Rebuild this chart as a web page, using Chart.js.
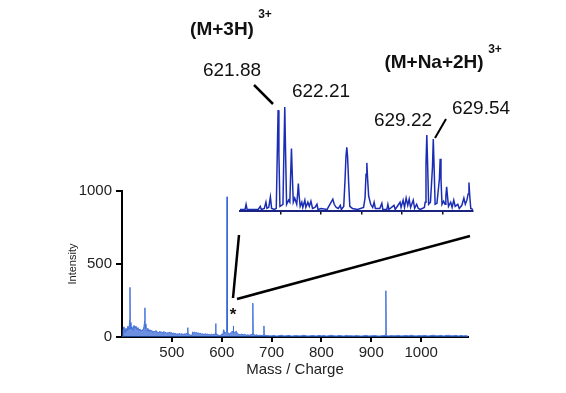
<!DOCTYPE html>
<html>
<head>
<meta charset="utf-8">
<script src="https://cdn.jsdelivr.net/npm/chart.js@4/dist/chart.umd.min.js"></script>
<style>
  html, body { margin:0; padding:0; background:#fff; }
  #wrap { position:relative; width:566px; height:393px; overflow:hidden; font-family:"Liberation Sans", Arial, sans-serif; }
  canvas { position:absolute; left:0; top:0; }
  .lbl { position:absolute; transform:translate(-50%,-50%); white-space:nowrap; line-height:1; color:#111; }
  svg { position:absolute; left:0; top:0; }
</style>
</head>
<body>
<div id="wrap">
  <canvas id="main" width="566" height="393"></canvas>
  <canvas id="inset" width="566" height="393"></canvas>
</div>
<script>
// ---------- main spectrum (m/z, intensity) ----------
const mainMz = [
  400,402,404,406,408,410,412,414,415.5,416,416.5,418,420,422,424,426,428,430,432,434,436,438,440,442,444,445.5,446,446.5,448,450,
  452,454,456,458,460,462,464,466,468,470,472,474,476,478,480,482,484,486,488,490,492,494,496,498,500,502,504,506,508,510,
  512,514,516,518,520,522,524,526,528,530,531.5,532,532.5,534,536,538,540,542,544,546,548,550,552,554,556,558,560,562,564,566,
  568,570,572,574,576,578,580,582,584,586,587.5,588,588.5,590,592,594,596,598,600,602,604,606,608,610,610.7,611.4,613,615,617,619,
  621,623,623.4,623.8,625,627,629.3,631,633,635,637,640,643,646,649,652,655,658,661,662.2,662.7,663.2,664,667,670,673,676,679,682,684.2,684.7,685.2,686,690,695,
  700,705,710,715,720,725,730,735,740,745,750,755,760,765,770,775,780,785,790,795,800,805,810,815,820,825,830,835,840,845,
  850,855,860,865,870,875,880,885,890,895,900,905,910,915,920,925,928.5,929.3,930,932,935,940,945,950,955,960,965,970,975,980,
  985,990,995,1000,1005,1010,1015,1020,1025,1030,1035,1040,1045,1050,1055,1060,1065,1070,1075,1080,1085,1090,1094
];
const mainIntensity = [
  5,45,70,30,60,40,75,50,120,340,100,55,70,45,80,60,75,50,65,45,55,40,50,45,70,110,200,90,55,40,
  60,35,50,40,45,30,40,35,45,30,35,28,40,30,35,25,38,30,32,25,30,28,35,25,30,22,28,20,25,18,
  22,20,25,18,22,20,18,22,20,25,20,64,20,20,15,12,10,35,30,32,28,30,25,28,22,25,20,22,18,20,
  22,18,20,15,18,15,20,15,18,20,20,92,20,20,15,12,10,12,20,15,50,25,30,40,960,40,25,20,25,30,
  40,30,76,30,30,35,40,25,20,18,15,20,15,18,12,15,12,15,20,20,232,20,20,12,15,10,12,10,12,12,76,12,12,10,8,
  8,10,6,9,12,7,9,11,6,8,10,7,9,12,8,6,10,9,7,11,8,10,6,9,12,8,7,10,9,6,
  11,8,9,7,10,8,6,9,11,7,8,10,9,6,8,10,12,317,12,9,7,10,8,9,11,7,9,10,8,12,
  9,7,10,8,11,9,7,10,12,8,9,11,7,10,12,8,9,11,7,10,8,9,6
];
const mainXTicks = [500, 600, 700, 800, 900, 1000];
const mainYTicks = [0, 500, 1000];

// ---------- inset (zoom of 620 - 631.5) ----------
const insetMz = [
  620.0,620.25,620.3,620.35,620.9,621.0,621.05,621.2,621.28,621.33,
  621.42,621.5,621.56,621.7,621.79,621.84,621.88,621.92,621.97,622.05,
  622.12,622.17,622.21,622.25,622.3,622.4,622.46,622.5,622.54,622.58,
  622.63,622.7,622.8,622.84,622.88,622.92,622.97,623.05,623.1,623.2,
  623.25,623.35,623.42,623.5,623.58,623.7,623.8,623.85,624.0,624.3,
  624.58,624.65,624.75,624.85,624.95,625.0,625.12,625.18,625.23,625.27,
  625.31,625.36,625.42,625.55,625.8,626.1,626.17,626.22,626.26,626.3,
  626.35,626.4,626.45,626.55,626.62,626.68,626.9,627.0,627.05,627.25,
  627.3,627.35,627.6,627.66,627.9,627.95,628.05,628.12,628.2,628.28,
  628.35,628.42,628.55,628.62,628.72,628.8,628.9,629.1,629.14,629.18,
  629.22,629.26,629.31,629.4,629.5,629.54,629.58,629.63,629.72,629.84,
  629.88,629.92,629.97,630.05,630.12,630.16,630.2,630.24,630.29,630.4,
  630.47,630.55,630.62,630.75,630.82,630.95,631.05,631.12,631.2,631.26,
  631.3,631.34,631.39,631.5
];
const insetIntensity = [
  1,1,6,1,1,4,1,2,8,2,
  3,13,2,1,2,55,97,55,4,5,
  6,60,100,55,6,10,8,35,60,35,
  8,12,6,15,26,14,4,8,3,10,
  3,8,4,9,2,3,6,1,2,1,
  11,6,3,2,5,1,4,28,52,61,
  52,28,4,2,1,3,12,35,46,30,
  14,10,6,3,8,2,2,7,1,1,
  6,1,5,1,8,3,10,3,12,5,
  11,3,10,2,6,2,1,3,8,45,
  73,45,6,8,42,69,42,6,7,30,
  50,30,6,9,6,14,23,14,4,8,
  3,10,4,6,2,5,12,6,10,16,
  27,14,2,1
];
const insetXTicks = [622, 624, 626, 628, 630];

const FONT = '"Liberation Sans", Arial, sans-serif';

new Chart(document.getElementById('main'), {
  type: 'line',
  data: {
    datasets: [{
      data: mainMz.map((m, i) => ({ x: m, y: mainIntensity[i] })),
      borderColor: 'rgba(55,105,215,0.9)',
      backgroundColor: 'rgba(45,95,210,0.7)',
      fill: 'origin',
      borderWidth: 1,
      pointRadius: 0,
      tension: 0
    }]
  },
  options: {
    responsive: false,
    animation: false,
    events: [],
    layout: { padding: { left: 66, right: 98, top: 191, bottom: 10 } },
    plugins: { legend: { display: false }, tooltip: { enabled: false } },
    scales: {
      x: {
        type: 'linear', min: 400, max: 1094,
        afterBuildTicks: s => { s.ticks = mainXTicks.map(v => ({ value: v })); },
        afterFit: s => { s.height = 46; },
        ticks: { font: { family: FONT, size: 15 }, color: '#222', padding: 2, maxRotation: 0, callback: v => String(v) },
        grid: { drawOnChartArea: false, drawTicks: true, tickLength: 5, color: '#000', lineWidth: 2 },
        border: { display: true, color: '#000', width: 2 },
        title: { display: true, text: 'Mass / Charge', font: { family: FONT, size: 15 }, color: '#222', padding: { top: 0, bottom: 4 } }
      },
      y: {
        min: 0, max: 1000,
        afterBuildTicks: s => { s.ticks = mainYTicks.map(v => ({ value: v })); },
        afterFit: s => { s.width = 56; },
        ticks: { font: { family: FONT, size: 15 }, color: '#222', padding: 4, callback: v => String(v) },
        grid: { drawOnChartArea: false, drawTicks: true, tickLength: 6, color: '#000', lineWidth: 2 },
        border: { display: true, color: '#000', width: 2 },
        title: { display: true, text: 'Intensity', font: { family: FONT, size: 11 }, color: '#222', padding: 0 }
      }
    }
  }
});

new Chart(document.getElementById('inset'), {
  type: 'line',
  data: {
    datasets: [{
      data: insetMz.map((m, i) => ({ x: m, y: insetIntensity[i] })),
      borderColor: '#1b2db4',
      borderWidth: 1.5,
      pointRadius: 0,
      tension: 0,
      fill: false
    }]
  },
  options: {
    responsive: false,
    animation: false,
    events: [],
    layout: { padding: { left: 240, right: 93, top: 106, bottom: 174.5 } },
    plugins: { legend: { display: false }, tooltip: { enabled: false } },
    scales: {
      x: {
        type: 'linear', min: 620, max: 631.5,
        afterBuildTicks: s => { s.ticks = insetXTicks.map(v => ({ value: v })); },
        afterFit: s => { s.height = 8; },
        ticks: { display: false },
        grid: { drawOnChartArea: false, drawTicks: true, tickLength: 4, color: '#111', lineWidth: 1.5 },
        border: { display: true, color: '#1a237e', width: 2 }
      },
      y: { display: false, min: 0, max: 101 }
    }
  }
});

// ---------- annotations ----------
const wrap = document.getElementById('wrap');
function label(text, x, y, css) {
  const d = document.createElement('div');
  d.className = 'lbl';
  d.textContent = text;
  d.style.left = x + 'px';
  d.style.top = y + 'px';
  Object.assign(d.style, css || {});
  wrap.appendChild(d);
}
label('(M+3H)', 222, 28, { fontSize: '19px', fontWeight: 'bold' });
label('3+', 265, 14, { fontSize: '12px', fontWeight: 'bold' });
label('(M+Na+2H)', 434, 61, { fontSize: '19px', fontWeight: 'bold' });
label('3+', 495, 49, { fontSize: '12px', fontWeight: 'bold' });
label('621.88', 232, 69, { fontSize: '19px' });
label('622.21', 321, 90, { fontSize: '19px' });
label('629.22', 403, 119, { fontSize: '19px' });
label('629.54', 481, 107, { fontSize: '19px' });
label('*', 233, 314, { fontSize: '17px', fontWeight: 'bold' });

const svgNS = 'http://www.w3.org/2000/svg';
const svg = document.createElementNS(svgNS, 'svg');
svg.setAttribute('width', 566); svg.setAttribute('height', 393);
wrap.appendChild(svg);
function seg(x1, y1, x2, y2, w) {
  const l = document.createElementNS(svgNS, 'line');
  l.setAttribute('x1', x1); l.setAttribute('y1', y1);
  l.setAttribute('x2', x2); l.setAttribute('y2', y2);
  l.setAttribute('stroke', '#000'); l.setAttribute('stroke-width', w);
  svg.appendChild(l);
}
seg(254, 85, 273, 104, 2.5);
seg(446, 119, 435, 138, 2);
seg(233, 298, 239, 235, 2.5);
seg(237, 299, 470, 236, 2.5);
</script>
</body>
</html>
